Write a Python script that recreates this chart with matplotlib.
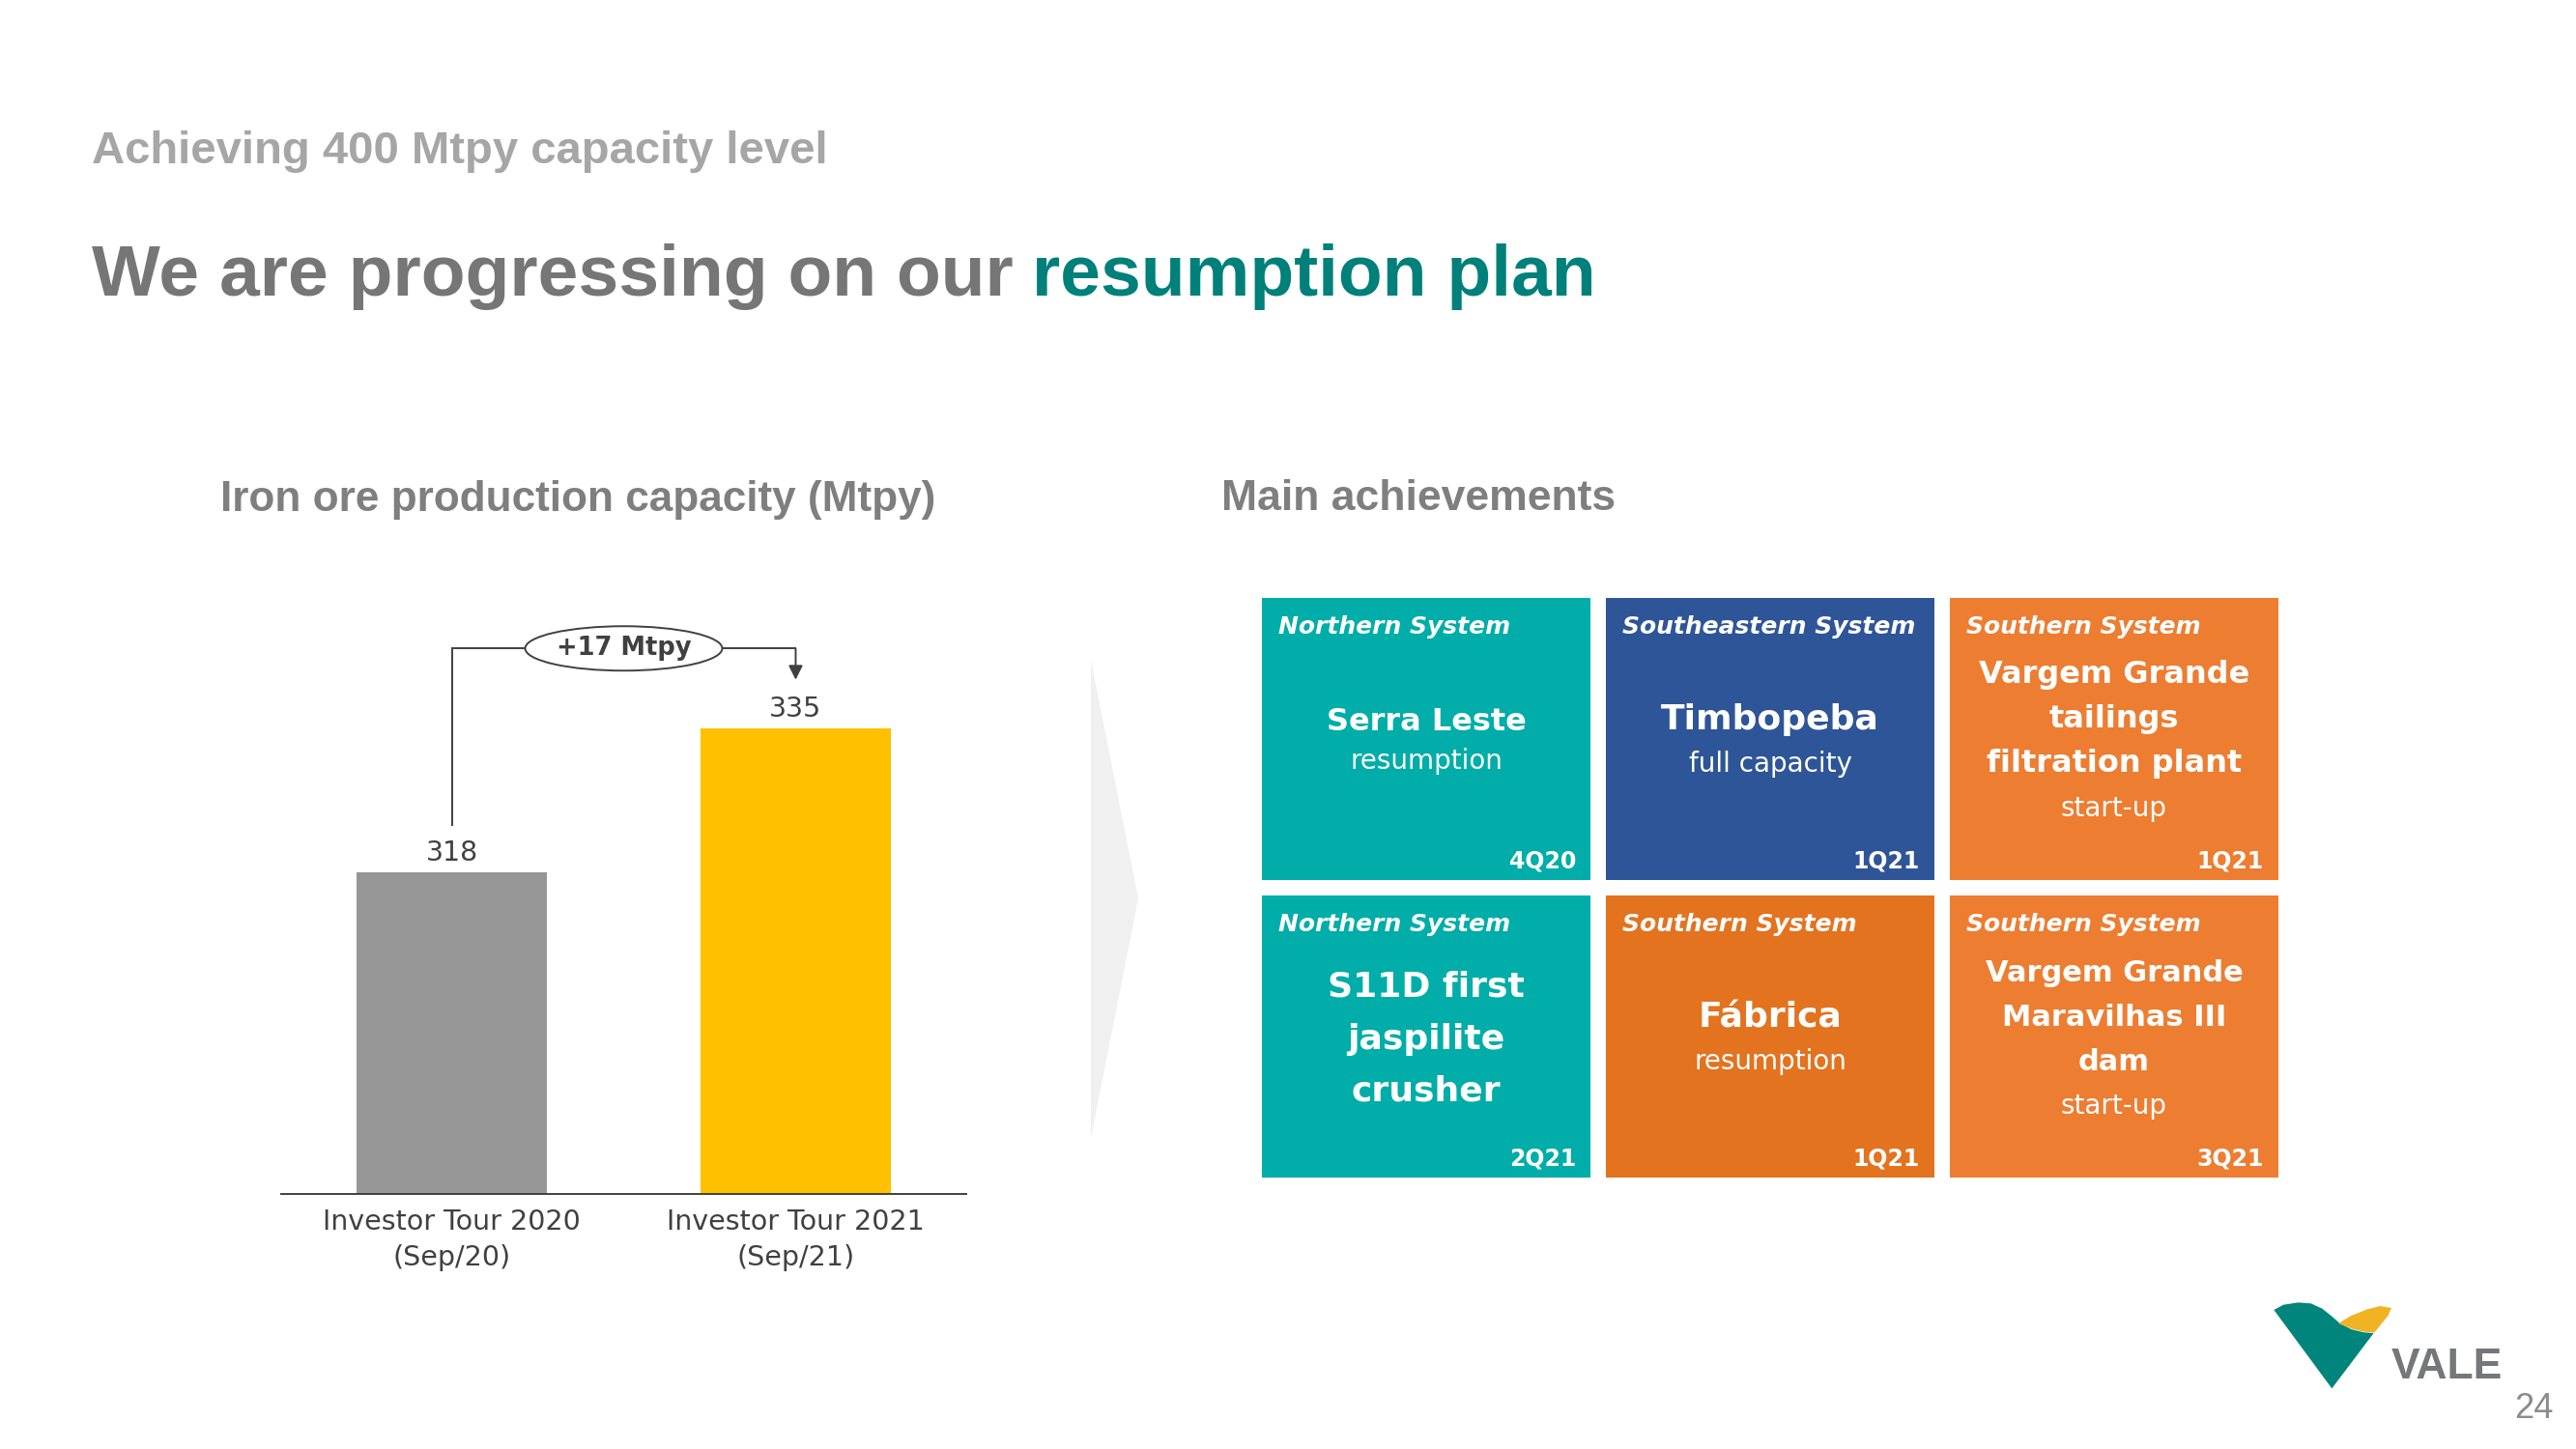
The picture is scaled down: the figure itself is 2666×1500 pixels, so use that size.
import matplotlib
matplotlib.use("Agg")
import matplotlib.pyplot as plt
from matplotlib import font_manager
from matplotlib.patches import Rectangle, Ellipse, Polygon

# data
bar_labels = ["Investor Tour 2020\n(Sep/20)", "Investor Tour 2021\n(Sep/21)"]
capacity = [318, 335]

tile_systems = ["Northern System", "Southeastern System", "Southern System",
                "Northern System", "Southern System", "Southern System"]
tile_titles = ["Serra Leste", "Timbopeba", "Vargem Grande\ntailings\nfiltration plant",
               "S11D first\njaspilite\ncrusher", "Fábrica", "Vargem Grande\nMaravilhas III\ndam"]
tile_notes = ["resumption", "full capacity", "start-up", "", "resumption", "start-up"]
tile_quarters = ["4Q20", "1Q21", "1Q21", "2Q21", "1Q21", "3Q21"]

# styles
tile_colors = ["#00ADA8", "#2E5597", "#ED7D31", "#00ADA8", "#E3731F", "#ED7D31"]
tile_title_size = [23, 26, 23, 26, 26, 22]
tile_line_gap = [41, 46, 46, 54, 46, 46]

names = {f.name for f in font_manager.fontManager.ttflist}
if "Liberation Sans Narrow" in names:
    narrow, sub_size, title_size = "Liberation Sans Narrow", 41, 63
else:
    narrow, sub_size, title_size = "Liberation Sans", 34, 54

fig = plt.figure(figsize=(26.66, 15), dpi=100)
bg = fig.add_axes([0, 0, 1, 1])
bg.set_xlim(0, 2666)
bg.set_ylim(1500, 0)
bg.axis("off")

# headings
bg.text(95, 169, "Achieving 400 Mtpy capacity level", family=narrow, weight="bold",
        fontsize=sub_size, color="#A6A6A6", va="baseline")
t1 = bg.text(95, 306, "We are progressing on our", family=narrow, weight="bold",
             fontsize=title_size, color="#767676", va="baseline")
bg.annotate("resumption plan", xy=(1, 0), xycoords=t1, xytext=(title_size * 0.26, 0),
            textcoords="offset points", family=narrow, weight="bold",
            fontsize=title_size, color="#00807A", va="bottom", ha="left")

bg.text(228, 517, "Iron ore production capacity (Mtpy)", family="Liberation Sans",
        weight="bold", fontsize=31.8, color="#7F7F7F", va="center")
bg.text(1264, 517, "Main achievements", family="Liberation Sans",
        weight="bold", fontsize=32, color="#7F7F7F", va="center")

# chevron
bg.add_patch(Polygon([(1129, 683), (1178, 930), (1129, 1178)], closed=True,
                     facecolor="#F0F0F0", edgecolor="none"))

# tiles
for i in range(6):
    r, c = divmod(i, 3)
    x0 = 1306 + c * 356
    y0 = 619 + r * 308
    bg.add_patch(Rectangle((x0, y0), 340, 292, facecolor=tile_colors[i], edgecolor="none"))
    bg.text(x0 + 17, y0 + 30, tile_systems[i], color="white", fontsize=18,
            weight="bold", style="italic", va="center", ha="left")
    bg.text(x0 + 325, y0 + 272, tile_quarters[i], color="white", fontsize=17,
            weight="bold", va="center", ha="right")
    lines = tile_titles[i].split("\n")
    if tile_notes[i]:
        lines = lines + [tile_notes[i]]
    gap = tile_line_gap[i]
    start = y0 + 149 - gap * (len(lines) - 1) / 2
    for k, ln in enumerate(lines):
        is_note = tile_notes[i] and k == len(lines) - 1
        bg.text(x0 + 170, start + k * gap, ln, color="white",
                fontsize=20 if is_note else tile_title_size[i],
                weight="normal" if is_note else "bold", ha="center", va="center")

# logo
def lp(pts):
    return [(2320 + x / 3, 1320 + y / 3) for x, y in pts]

bg.add_patch(Polygon(lp([(100, 108), (130, 92), (175, 85), (215, 88), (250, 104), (280, 128),
                         (305, 150), (340, 168), (380, 178), (410, 180), (280, 352)]),
                     closed=True, facecolor="#00857D", edgecolor="none"))
bg.add_patch(Polygon(lp([(300, 150), (340, 126), (390, 106), (430, 96), (465, 102), (455, 125),
                         (435, 150), (412, 178), (380, 176), (340, 166)]),
                     closed=True, facecolor="#F0B323", edgecolor="none"))
bg.text(2475, 1427, "VALE", family="Liberation Sans", weight="bold", fontsize=32,
        color="#76777A", va="baseline")
bg.text(2642, 1468, "24", family="Liberation Sans", fontsize=26, color="#8C8C8C",
        va="baseline", ha="right")

# bar chart
ax = fig.add_axes([291 / 2666, 0.1763, 709 / 2666, 0.46733])
ax.set_facecolor("none")
x = [0, 1]
ax.bar(x, capacity, width=0.553, color=["#969696", "#FFC000"], bottom=0)
ax.set_ylim(280, 360)
ax.set_xlim(-0.496, 1.496)
for s in ["top", "left", "right"]:
    ax.spines[s].set_visible(False)
ax.spines["bottom"].set_color("#404040")
ax.spines["bottom"].set_linewidth(1.4)
ax.set_yticks([])
ax.set_xticks(x)
ax.set_xticklabels(bar_labels, fontsize=20.5, color="#404040", linespacing=1.4)
ax.tick_params(axis="x", length=0, pad=11)

for xi, v in zip(x, capacity):
    ax.annotate(f"{v}", xy=(xi, v), xytext=(0, 14), textcoords="offset points",
                ha="center", va="center", fontsize=20.5, color="#404040")

top = capacity[1] + 9.4
ax.plot([0, 0, 1, 1], [capacity[0] + 5.6, top, top, top], color="#404040",
        lw=1.4, solid_joinstyle="miter", clip_on=False, zorder=2)
ax.annotate("", xy=(1, capacity[1] + 5.7), xytext=(1, top),
            arrowprops=dict(arrowstyle="-|>", color="#404040", lw=1.4,
                            mutation_scale=22, shrinkA=0, shrinkB=0),
            annotation_clip=False)
ax.add_patch(Ellipse((0.5, top), 0.573, 5.25, facecolor="white", edgecolor="#404040",
                     lw=1.4, clip_on=False, zorder=3))
ax.text(0.5, top, f"+{capacity[1] - capacity[0]} Mtpy", ha="center", va="center",
        fontsize=18.5, weight="bold", color="#404040", zorder=4)

fig.savefig("out.png", dpi=100)
